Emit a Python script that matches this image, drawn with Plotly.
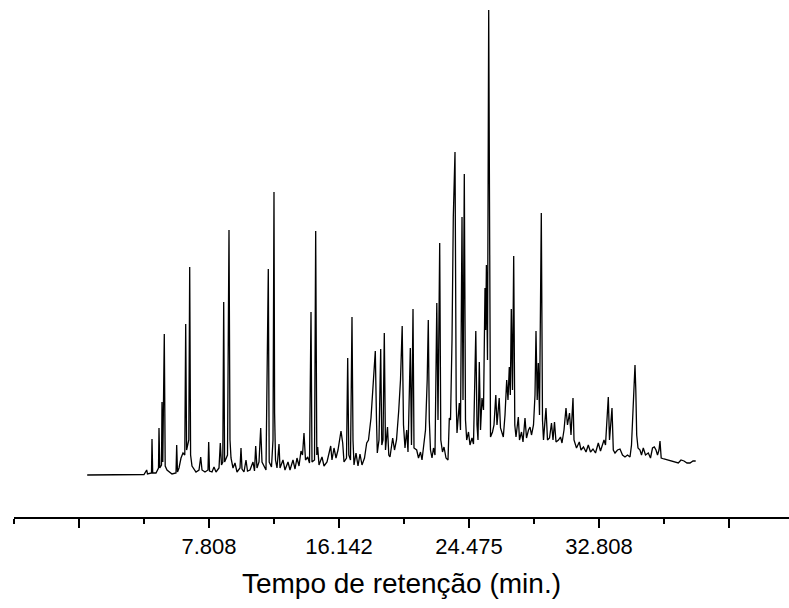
import plotly.graph_objects as go

# Retention time (min) and detector response (arbitrary units)
tempo = [
    0.0, 3.641, 3.814, 3.865, 4.122, 4.154, 4.199, 4.410, 4.571, 4.603, 4.654,
    4.763, 4.795, 4.846, 4.942, 5.000, 5.115, 5.244, 5.436, 5.692, 5.737, 5.788,
    5.885, 6.013, 6.141, 6.256, 6.314, 6.372, 6.513, 6.571, 6.628, 6.718, 6.814,
    6.974, 7.167, 7.276, 7.359, 7.551, 7.744, 7.788, 7.840, 8.000, 8.128, 8.256,
    8.449, 8.532, 8.609, 8.692, 8.750, 8.808, 8.994, 9.090, 9.154, 9.218, 9.346,
    9.474, 9.603, 9.795, 9.859, 9.923, 10.051, 10.179, 10.276, 10.436, 10.628,
    10.724, 10.801, 10.885, 11.013, 11.122, 11.205, 11.333, 11.462, 11.609,
    11.667, 11.814, 11.910, 11.974, 12.013, 12.071, 12.167, 12.295, 12.359,
    12.551, 12.679, 12.872, 13.000, 13.192, 13.321, 13.449, 13.577, 13.705,
    13.801, 13.897, 13.994, 14.135, 14.250, 14.346, 14.410, 14.571, 14.647,
    14.718, 14.776, 14.859, 15.051, 15.179, 15.372, 15.609, 15.692, 15.821,
    15.949, 16.077, 16.269, 16.378, 16.462, 16.622, 16.699, 16.769, 16.878,
    16.974, 17.038, 17.103, 17.231, 17.359, 17.487, 17.615, 17.776, 17.917,
    18.032, 18.192, 18.321, 18.468, 18.545, 18.596, 18.705, 18.814, 18.885,
    18.962, 19.045, 19.122, 19.250, 19.333, 19.410, 19.583, 19.699, 19.827,
    19.968, 20.083, 20.192, 20.276, 20.372, 20.481, 20.564, 20.712, 20.788,
    20.885, 20.949, 21.122, 21.237, 21.365, 21.462, 21.590, 21.686, 21.795,
    21.865, 21.929, 22.006, 22.103, 22.199, 22.295, 22.410, 22.487, 22.596,
    22.667, 22.776, 22.872, 23.000, 23.128, 23.212, 23.289, 23.385, 23.468,
    23.577, 23.654, 23.705, 23.853, 23.929, 24.026, 24.090, 24.173, 24.250,
    24.327, 24.442, 24.538, 24.667, 24.763, 24.910, 24.987, 25.051, 25.135,
    25.212, 25.308, 25.404, 25.500, 25.545, 25.590, 25.660, 25.737, 25.808,
    25.853, 25.981, 26.077, 26.192, 26.269, 26.410, 26.494, 26.673, 26.782,
    26.891, 26.974, 27.058, 27.122, 27.186, 27.263, 27.340, 27.410, 27.487,
    27.635, 27.712, 27.840, 27.936, 28.064, 28.160, 28.288, 28.385, 28.481,
    28.609, 28.705, 28.769, 28.846, 28.917, 28.994, 29.109, 29.186, 29.250,
    29.410, 29.506, 29.635, 29.763, 29.859, 29.955, 30.051, 30.212, 30.340,
    30.436, 30.564, 30.692, 30.788, 30.917, 31.013, 31.141, 31.205, 31.365,
    31.545, 31.654, 31.814, 31.974, 32.122, 32.263, 32.423, 32.583, 32.763,
    32.904, 33.000, 33.128, 33.224, 33.321, 33.404, 33.481, 33.545, 33.641,
    33.724, 33.833, 33.994, 34.154, 34.314, 34.474, 34.635, 34.795, 34.891,
    34.974, 35.051, 35.115, 35.167, 35.224, 35.308, 35.436, 35.532, 35.647,
    35.788, 35.968, 36.109, 36.237, 36.353, 36.462, 36.558, 36.654, 36.718,
    36.795, 36.974, 37.167, 37.359, 37.551, 37.744, 37.891, 38.064, 38.256,
    38.449, 38.641, 38.833, 39.006,
]

sinal = [
    0, 0.5, 5, 1, 2, 36, 2, 2, 7, 47, 7,
    10, 73, 13, 141, 9, 5, 3, 1, 2, 30, 3,
    7, 17, 22, 20, 151, 25, 35, 208, 20, 9, 7,
    3, 5, 18, 5, 3, 5, 33, 4, 3, 8, 3,
    7, 32, 10, 13, 173, 13, 20, 245, 35, 17, 7,
    12, 3, 7, 27, 6, 3, 15, 4, 5, 13,
    4, 29, 7, 13, 47, 13, 9, 5, 206,
    13, 8, 35, 283, 62, 15, 7, 31, 7,
    15, 5, 13, 5, 15, 6, 17, 9, 24,
    20, 42, 15, 18, 12, 163, 13, 15, 244,
    20, 28, 10, 18, 9, 13, 29, 15, 27,
    17, 25, 44, 32, 13, 17, 117, 20, 15,
    158, 35, 10, 22, 9, 21, 10, 17, 32,
    35, 57, 85, 124, 55, 22, 35, 126, 30,
    35, 142, 25, 48, 20, 18, 37, 25, 35,
    64, 95, 149, 50, 27, 45, 23, 127, 30,
    166, 27, 25, 17, 23, 15, 35, 45, 95,
    155, 55, 25, 17, 27, 20, 172, 55, 232,
    35, 23, 28, 17, 15, 57, 55, 135, 258,
    323, 75, 42, 72, 45, 258, 75, 301, 55,
    35, 43, 30, 37, 31, 144, 50, 35, 113,
    45, 77, 65, 187, 145, 210, 115, 465, 55,
    38, 43, 50, 80, 50, 77, 47, 38, 60,
    95, 75, 108, 80, 166, 85, 219, 50, 38,
    58, 35, 43, 33, 57, 37, 45, 48, 40,
    50, 80, 144, 75, 112, 60, 262, 55, 35,
    67, 35, 37, 52, 35, 53, 33, 35, 38,
    32, 45, 67, 50, 62, 40, 77, 35, 27,
    33, 25, 28, 23, 30, 23, 26, 22, 32,
    24, 28, 35, 30, 55, 78, 35, 50, 67,
    25, 22, 25, 26, 20, 18, 20, 18, 30,
    65, 100, 110, 85, 40, 27, 25, 20, 27,
    20, 22, 17, 27, 28, 25, 20, 25, 34,
    17, 16, 15, 14, 13, 12, 12, 15, 14,
    12, 12, 14, 14,
]

tick_major = [-0.525, 7.808, 16.142, 24.475, 32.808, 41.142]
tick_labels = ["", "7.808", "16.142", "24.475", "32.808", ""]

fig = go.Figure()
fig.add_trace(go.Scatter(
    x=tempo, y=sinal, mode="lines",
    line=dict(color="black", width=1.3),
    showlegend=False, hoverinfo="skip",
))

fig.update_layout(
    width=789, height=608,
    margin=dict(l=14, r=0, t=0, b=91),
    paper_bgcolor="white", plot_bgcolor="white",
    font=dict(family="Liberation Sans, Arial, sans-serif", color="black"),
    xaxis=dict(
        range=[-4.692, 44.987],
        showgrid=False, zeroline=False,
        showline=True, linecolor="black", linewidth=2,
        ticks="outside", ticklen=9, tickwidth=2, tickcolor="black",
        tickmode="array", tickvals=tick_major, ticktext=tick_labels,
        tickfont=dict(size=22),
        minor=dict(tick0=-0.525, dtick=4.16667, ticks="outside",
                   ticklen=5, tickwidth=2, tickcolor="black", showgrid=False),
        title=dict(text="Tempo de retenção (min.)", font=dict(size=28), standoff=15),
    ),
    yaxis=dict(
        range=[-42, 475], visible=False, showgrid=False, zeroline=False,
    ),
)

fig.write_html(
    "out.html",
    config={"displayModeBar": False},
    post_script="document.body.style.margin='0';document.body.style.overflow='hidden';",
)
